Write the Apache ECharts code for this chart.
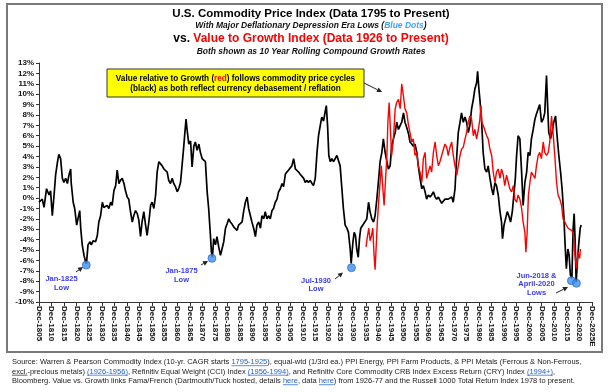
<!DOCTYPE html>
<html><head><meta charset="utf-8">
<script src="https://cdn.jsdelivr.net/npm/echarts@6/dist/echarts.min.js"></script>
<style>html,body{margin:0;padding:0;background:#fff}#c{width:611px;height:392px}</style>
</head><body><div id="c"></div>
<script>
// ---------- DATA ----------
const blackYears = [1805.0,1806.3,1807.0,1808.0,1809.0,1809.6,1810.3,1811.0,1811.6,1812.3,1812.9,1813.6,1814.3,1814.9,1815.6,1816.3,1816.9,1817.6,1817.8,1818.6,1819.2,1820.0,1820.5,1821.2,1821.6,1822.2,1822.9,1823.5,1823.9,1824.5,1825.3,1825.8,1826.6,1827.5,1828.2,1828.8,1829.5,1830.2,1830.8,1831.5,1832.1,1832.8,1833.5,1834.1,1834.8,1835.5,1836.1,1836.8,1837.4,1838.1,1838.8,1839.4,1840.1,1840.7,1841.4,1842.1,1842.7,1843.4,1844.1,1844.7,1845.4,1846.0,1846.7,1847.4,1848.0,1848.7,
1849.4,1850.0,1850.7,1851.4,1852.0,1852.7,1853.3,1854.0,1854.7,1855.3,1856.0,1856.6,1857.3,1858.0,1858.6,1859.3,1860.0,1860.6,1861.3,1861.9,1862.6,1863.0,1863.5,1863.9,1864.6,1865.3,1865.9,1866.6,1867.2,1867.9,1868.6,1869.2,1869.9,1870.5,1871.2,1871.9,1872.5,1873.2,1873.6,1874.0,1874.5,1875.2,1875.8,1876.5,1877.2,1877.8,1878.5,1879.2,1879.8,1880.5,1881.1,1881.8,1882.5,1883.1,1883.8,1884.4,1885.1,1885.8,1886.4,1887.1,1887.8,1888.4,1889.1,1889.7,1890.4,1891.1,1891.7,1892.4,1893.1,1893.7,1894.4,1895.0,1895.7,1896.4,1897.0,1897.7,1898.3,1899.0,1899.7,1900.3,1901.0,1901.7,1902.3,1903.0,1903.6,1904.3,
1905.0,1905.6,1906.3,1907.0,1907.6,1908.3,1908.9,1909.6,1910.3,1910.9,1911.6,1912.2,1912.9,1913.6,1914.2,1914.9,1915.6,1916.2,1916.9,1917.5,1918.2,1918.9,1919.3,1919.8,1920.3,1920.9,1921.5,1922.2,1922.8,1923.5,1924.2,1924.8,1925.5,1926.1,1926.8,1927.5,1928.1,1928.8,1929.2,1929.9,1930.4,1930.9,1931.4,1932.0,1932.5,1933.0,1933.6,1934.1,1934.8,1935.4,1936.1,1936.7,1937.4,1938.1,1938.7,1939.4,1940.0,1940.7,1941.4,1942.0,1942.7,1943.4,1944.0,1944.7,1945.3,1946.0,1946.7,1947.3,1948.0,1948.7,1949.3,1950.0,1950.6,1951.3,1952.0,1952.6,1953.3,1953.9,1954.6,1955.3,1955.9,1956.6,1957.3,1957.9,1958.6,1959.2,1959.9,1960.6,1961.2,1961.9,1962.6,1963.2,1963.9,1964.5,1965.2,1965.9,1966.5,1967.2,1967.8,
1968.5,1969.2,1969.8,1970.5,1971.2,1971.8,1972.5,1973.1,1973.8,1974.5,1975.1,1975.8,1976.4,1977.1,1977.8,1978.4,1979.1,1979.5,1980.0,1980.4,1981.1,1981.7,1982.4,1983.1,1983.7,1984.4,1985.1,1985.7,1986.4,1987.0,1987.7,1988.4,1989.0,1989.4,1990.0,1990.6,1991.3,1991.9,1992.6,1993.3,1993.9,1994.5,1995.0,1995.6,1996.3,1997.0,1997.6,1998.3,1999.0,1999.6,2000.3,2000.9,2001.6,2002.3,2002.9,2003.6,2004.2,2004.9,2005.6,2006.2,2006.9,2007.3,2007.8,2008.5,2009.1,2009.8,2010.5,2011.1,2011.8,2012.5,2013.1,2013.8,2014.3,2014.8,2015.4,2015.9,2016.4,2017.0,2017.5,2017.9,2018.3,2018.7,2019.2,2019.7,2020.3,2020.7];
const blackValues = [-0.4,-0.1,-0.9,0.9,0.3,0.7,-1.7,0.3,2.2,3.4,4.2,3.8,1.9,1.5,1.9,1.4,2.2,2.8,1.5,-0.4,-1.0,-2.6,-2.0,-1.2,-2.9,-4.5,-5.5,-6.1,-6.3,-4.5,-4.2,-4.5,-4.1,-4.2,-3.6,-2.3,-1.7,-0.4,-0.9,-1.0,-0.7,-1.0,-0.4,-0.7,0.7,1.2,2.7,1.4,1.7,1.9,1.4,0.7,0.1,-0.1,-1.3,-2.3,-1.7,-1.2,-1.5,-2.1,-3.7,-2.3,-1.3,-2.6,-3.6,-2.3,
-0.7,-0.4,-1.0,0.3,2.5,3.5,3.6,3.1,2.8,2.8,2.5,1.7,1.4,1.9,1.4,1.1,0.6,0.9,1.5,3.1,5.0,6.2,7.6,6.6,5.2,5.5,3.0,5.0,5.4,4.6,5.2,4.4,3.8,3.9,3.5,0.6,-1.0,-3.6,-5.2,-5.7,-3.9,-4.5,-3.7,-4.7,-5.5,-5.5,-4.2,-2.9,-2.5,-2.0,-2.3,-2.5,-2.8,-2.9,-3.1,-2.6,-2.6,-2.3,-1.3,-0.4,0.1,-1.0,-1.7,-2.3,-2.9,-3.7,-2.6,-2.3,-2.9,-1.7,-2.0,-1.3,-2.0,-1.7,-2.0,-1.2,-1.0,-0.4,-0.1,0.6,0.9,1.4,1.1,2.3,2.5,2.7,
2.7,3.1,3.8,2.8,2.8,2.5,2.3,2.2,1.9,1.5,1.7,1.5,1.7,1.4,1.2,1.9,4.4,6.0,7.0,7.8,7.4,8.4,8.9,7.0,4.1,3.5,3.8,3.5,3.6,4.1,4.2,3.1,0.9,-1.0,-2.6,-2.9,-3.3,-4.9,-6.3,-4.2,-3.3,-3.6,-4.9,-5.7,-3.9,-2.9,-2.8,-2.5,-2.6,-2.0,-0.4,-1.3,-2.0,-2.3,-1.7,-0.1,1.5,3.5,4.4,5.7,4.4,3.5,2.8,3.1,5.0,5.7,6.3,7.3,6.6,7.0,7.3,8.2,7.3,6.8,6.2,5.4,5.2,5.0,5.2,4.4,3.1,1.9,0.9,1.2,0.6,-0.1,0.3,0.1,0.3,0.6,0.1,-0.1,0.1,-0.2,-0.5,-0.4,-0.1,-0.2,-0.1,
-0.2,0.1,-0.4,0.9,4.1,6.3,7.3,8.2,7.3,7.8,7.3,6.3,7.0,8.6,9.5,10.5,11.1,12.2,10.5,9.5,7.3,4.4,2.8,2.5,3.1,1.9,0.9,0.3,1.5,1.2,0.3,-1.3,-2.3,-3.9,-2.6,-2.0,-1.3,-1.7,-2.3,-1.3,0.3,1.9,4.1,6.0,5.7,2.5,-0.7,1.5,2.5,4.4,4.1,5.7,6.6,7.6,8.1,8.6,9.0,7.3,7.6,8.2,11.8,9.2,6.3,5.7,6.3,7.3,7.9,6.0,4.1,2.5,0.9,-1.7,-4.5,-6.8,-4.9,-5.5,-7.4,-7.7,-2.9,-1.5,-4.2,-8.1,-6.1,-4.5,-2.9,-2.6];

const redYears = [1935.1,1935.7,1936.2,1936.7,1937.3,1937.8,1938.3,1938.7,1939.1,1939.6,1940.2,1940.7,1941.2,1941.8,1942.3,1942.8,1943.4,1943.8,1944.3,1944.8,1945.3,1946.0,1946.7,1947.3,1948.0,1948.7,1949.3,1950.0,1950.6,1951.3,1952.0,1952.6,1953.3,1953.9,1954.6,1955.3,1955.9,1956.6,1957.3,1957.9,1958.6,1959.2,1959.9,1960.6,1961.2,1961.9,1962.6,1963.2,1963.9,1964.5,1965.2,1965.9,1966.5,1967.2,1967.8,
1968.5,1969.2,1969.8,1970.5,1971.2,1971.8,1972.5,1973.1,1973.8,1974.5,1975.1,1975.8,1976.4,1977.1,1977.8,1978.4,1979.1,1979.8,1980.4,1980.8,1981.2,1981.7,1982.4,1983.1,1983.7,1984.4,1985.1,1985.7,1986.4,1987.0,1987.7,1988.4,1989.0,1989.7,1990.3,1991.0,1991.7,1992.3,1993.0,1993.7,1994.3,1995.0,1995.6,1996.3,1997.0,1997.6,1998.3,1998.7,1999.2,1999.7,2000.3,2000.9,2001.6,2002.3,2002.9,2003.6,2004.2,2004.9,2005.6,2006.2,2006.9,2007.6,2008.2,2008.9,2009.5,2010.2,2010.9,2011.5,2012.2,2012.9,2013.5,2014.2,2014.8,2015.5,2016.2,2016.8,2017.5,2018.1,2018.8,2019.5,2020.1,2020.4];
const redValues = [-4.7,-3.6,-2.9,-4.1,-3.6,-2.9,-5.5,-6.9,-4.9,-2.3,-0.1,1.5,3.1,0.9,-0.7,1.5,4.1,7.3,9.2,6.6,4.1,5.7,8.6,9.2,9.5,8.6,11.0,9.8,8.6,8.2,7.0,6.3,5.4,5.7,4.1,4.4,3.1,2.5,1.5,3.8,4.4,1.9,2.5,3.1,2.5,4.4,5.4,4.1,3.1,3.5,4.1,4.7,5.2,4.9,4.1,
4.9,5.4,4.1,3.1,2.2,3.1,4.1,4.7,4.9,5.7,6.3,7.3,7.9,7.6,6.0,6.6,5.7,6.6,7.6,8.9,7.3,7.0,6.5,6.0,5.7,4.7,4.1,2.5,1.5,2.5,2.8,1.9,2.8,2.2,1.2,2.2,1.5,0.9,0.6,1.2,-0.1,-0.4,0.3,-0.1,-1.0,-2.3,-3.3,-5.2,-3.3,0.3,1.5,2.5,2.2,1.9,3.1,4.1,4.4,3.8,5.4,4.4,4.1,4.4,5.4,7.9,6.3,4.1,1.5,0.3,-0.1,-0.7,-2.0,-2.3,-2.6,-2.9,-2.8,-3.1,-3.3,-5.2,-6.8,-5.2,-5.8,-4.9];

const lowYears  = [1823.8, 1873.8, 1929.3, 2016.8, 2018.8];
const lowValues = [-6.45, -5.8, -6.7, -7.95, -8.2];

const xTickLabels = ['Dec-1805','Dec-1810','Dec-1815','Dec-1820','Dec-1825','Dec-1830','Dec-1835','Dec-1840','Dec-1845','Dec-1850','Dec-1855','Dec-1860','Dec-1865','Dec-1870','Dec-1875','Dec-1880','Dec-1885','Dec-1890','Dec-1895','Dec-1900','Dec-1905','Dec-1910','Dec-1915','Dec-1920','Dec-1925','Dec-1930','Dec-1935','Dec-1940','Dec-1945','Dec-1950','Dec-1955','Dec-1960','Dec-1965','Dec-1970','Dec-1975','Dec-1980','Dec-1985','Dec-1990','Dec-1995','Dec-2000','Dec-2005','Dec-2010','Dec-2015','Dec-2020','Dec-2025E'];

// ---------- HELPERS ----------
const FONT = '"Liberation Sans", Arial, sans-serif';
function arrow(x1, y1, x2, y2, color) {
  const a = Math.atan2(y2 - y1, x2 - x1), L = 5, W = 2.5;
  const bx = x2 - L * Math.cos(a), by = y2 - L * Math.sin(a);
  return [
    {type:'line', shape:{x1, y1, x2:bx, y2:by}, style:{stroke:color, lineWidth:1}},
    {type:'polygon', shape:{points:[[x2,y2],[bx - W*Math.sin(a), by + W*Math.cos(a)],[bx + W*Math.sin(a), by - W*Math.cos(a)]]}, style:{fill:color}}
  ];
}
function txt(text, x, y, opts) {
  return {type:'text', style:Object.assign({text, x, y, fontFamily:FONT, textAlign:'center', textVerticalAlign:'middle', fill:'#000'}, opts||{})};
}
const BLUE = '#3a3af0';
const graphics = [];
// frame
graphics.push({type:'rect', shape:{x:7, y:4, width:595, height:348}, style:{fill:'none', stroke:'#7a7a7a', lineWidth:2}, z:-1});
// titles
graphics.push(txt('U.S. Commodity Price Index (Data 1795 to Present)', 311, 14, {fontSize:11.5, fontWeight:'bold'}));
graphics.push(txt('{a|With Major Deflationary Depression Era Lows (}{b|Blue Dots}{a|)}', 311, 26, {rich:{a:{fontSize:8.5, fontWeight:'bold', fontStyle:'italic', fontFamily:FONT, fill:'#111'}, b:{fontSize:8.5, fontWeight:'bold', fontStyle:'italic', fontFamily:FONT, fill:'#3fa0ff'}}}));
graphics.push(txt('{k|vs. }{r|Value to Growth Index (Data 1926 to Present)}', 311, 39, {rich:{k:{fontSize:12, fontWeight:'bold', fontFamily:FONT, fill:'#000'}, r:{fontSize:12, fontWeight:'bold', fontFamily:FONT, fill:'#ff0000'}}}));
graphics.push(txt('Both shown as 10 Year Rolling Compound Growth Rates', 311, 52, {fontSize:8.5, fontWeight:'bold', fontStyle:'italic', fill:'#111'}));
// yellow annotation box
graphics.push({type:'rect', shape:{x:107, y:69, width:257, height:28}, style:{fill:'#ffff00', stroke:'#333', lineWidth:1}});
graphics.push(txt('{a|Value relative to Growth (}{r|red}{a|) follows commodity price cycles}', 235.5, 79, {rich:{a:{fontSize:8.2, fontWeight:'bold', fontFamily:FONT, fill:'#000'}, r:{fontSize:8.2, fontWeight:'bold', fontFamily:FONT, fill:'#ff0000'}}}));
graphics.push(txt('(black) as both reflect currency debasement / reflation', 235.5, 88.5, {fontSize:8.2, fontWeight:'bold'}));
graphics.push(...arrow(364, 83, 382, 92, '#222'));
// low labels
const lowLab = [
  {lines:['Jan-1825','Low'], x:61.5, y:279, a:[76,272,83,267]},
  {lines:['Jan-1875','Low'], x:181.5, y:271, a:[201,265,208,261]},
  {lines:['Jul-1930','Low'], x:316, y:280.5, a:[335,279,343,272.5]},
  {lines:['Jun-2018 &','April-2020','Lows'], x:536.5, y:275.5, a:[556,293,568,287]}
];
lowLab.forEach(l => {
  l.lines.forEach((s, i) => graphics.push(txt(s, l.x, l.y + i * 8.8, {fontSize:7.5, fontWeight:'bold', fill:BLUE})));
  graphics.push(...arrow(l.a[0], l.a[1], l.a[2], l.a[3], '#222'));
});
// source footnote with underlined links
const srcLines = [
  [['Source: Warren & Pearson Commodity Index (10-yr. CAGR starts ',0],['1795-1925',1],['), equal-wtd (1/3rd ea.) PPI Energy, PPI Farm Products, & PPI Metals (Ferrous & Non-Ferrous,',0]],
  [['excl.',2],['-precious metals) ',0],['(1926-1956)',1],[', Refinitiv Equal Weight (CCI) Index ',0],['(1956-1994)',1],[', and Refinitiv Core Commodity CRB Index Excess Return (CRY) Index ',0],['(1994+)',1],[',',0]],
  [['Bloomberg. Value vs. Growth links Fama/French (Dartmouth/Tuck hosted, details ',0],['here',1],[', data ',0],['here',1],[') from 1926-77 and the Russell 1000 Total Return Index 1978 to present.',0]]
];
const ctx = document.createElement('canvas').getContext('2d');
const SRC_SIZE = 7.5;
ctx.font = SRC_SIZE + 'px ' + FONT;
srcLines.forEach((segs, li) => {
  let x = 12; const y = 362 + li * 9.5;
  segs.forEach(([s, link]) => {
    const w = ctx.measureText(s).width;
    const col = link === 1 ? '#1f5fd0' : '#222';
    graphics.push({type:'text', style:{text:s, x, y, fontSize:SRC_SIZE, fontFamily:FONT, fill:col, textAlign:'left', textVerticalAlign:'middle'}});
    if (link) graphics.push({type:'line', shape:{x1:x, y1:y+3.7, x2:x+w, y2:y+3.7}, style:{stroke:col, lineWidth:0.7}});
    x += w;
  });
});

// ---------- CHART ----------
const chart = echarts.init(document.getElementById('c'), null, {renderer:'canvas'});
chart.setOption({
  animation:false,
  backgroundColor:'#fff',
  grid:{left:39, right:19, top:63, bottom:90},
  xAxis:{type:'value', min:1805, max:2025, interval:5,
    axisLine:{onZero:false, lineStyle:{color:'#333', width:1}},
    axisTick:{length:4, lineStyle:{color:'#333'}},
    splitLine:{show:false},
    axisLabel:{rotate:-90, margin:4, fontSize:8, fontWeight:'bold', fontFamily:FONT, color:'#111',
      formatter:v => xTickLabels[Math.round((v - 1805) / 5)] || ''}},
  yAxis:{type:'value', min:-10, max:13, interval:1,
    axisLine:{show:true, lineStyle:{color:'#333', width:1}},
    axisTick:{show:true, length:3, lineStyle:{color:'#333'}},
    splitLine:{show:false},
    axisLabel:{margin:5, fontSize:8, fontWeight:'bold', fontFamily:FONT, color:'#111', formatter:'{value}%'}},
  series:[
    {type:'line', name:'Commodity', data:blackYears.map((y,i)=>[y, blackValues[i]]), showSymbol:false, symbol:'none', lineStyle:{color:'#000', width:1.7}, z:2},
    {type:'line', name:'Value/Growth', data:redYears.map((y,i)=>[y, redValues[i]]), showSymbol:false, symbol:'none', lineStyle:{color:'#ff0000', width:1.4}, z:3},
    {type:'scatter', name:'Lows', data:lowYears.map((y,i)=>[y, lowValues[i]]), symbolSize:8, itemStyle:{color:'#3d8ef0', borderColor:'#1f5fc0', borderWidth:0.8}, z:4}
  ],
  graphic:graphics
});
</script></body></html>
